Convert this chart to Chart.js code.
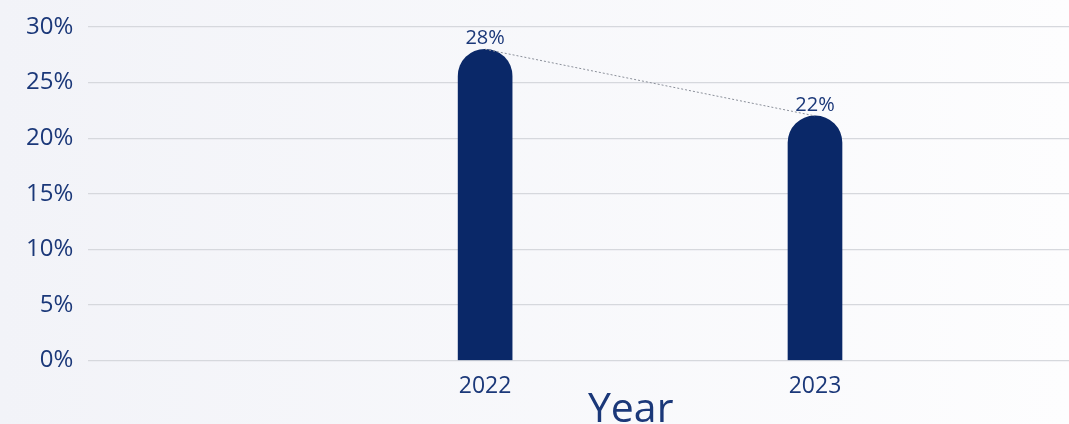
<!DOCTYPE html>
<html>
<head>
<meta charset="utf-8">
<script src="https://cdn.jsdelivr.net/npm/chart.js@4"></script>
<style>
  html, body { margin: 0; padding: 0; }
  body { width: 1069px; height: 424px; background: linear-gradient(to right, #f2f3f8, #fdfdfe); overflow: hidden; }
  #wrap { width: 1069px; height: 424px; }
</style>
</head>
<body>
<div id="wrap"><canvas id="rateChart"></canvas></div>
<script>
const years = [2022, 2023];
const rates = [28, 22];
const yTicks = [0, 5, 10, 15, 20, 25, 30];
const xTitle = 'Year';

const navy = '#0a2868';
const textColor = '#1b3879';

const points = years.map((y, i) => ({ x: y, y: rates[i] }));

// labels over bars + shifted axis title
const labelPlugin = {
    id: 'labelPlugin',
    afterDatasetsDraw(chart) {
        const ctx = chart.ctx;
        const meta = chart.getDatasetMeta(1);
        ctx.save();
        ctx.fillStyle = textColor;
        ctx.font = '20px "Open Sans"';
        ctx.textAlign = 'center';
        ctx.textBaseline = 'bottom';
        meta.data.forEach((bar, i) => {
            ctx.fillText(rates[i] + '%', bar.x, bar.y - 1);
        });
        const area = chart.chartArea;
        ctx.font = '41px "Open Sans"';
        ctx.textBaseline = 'alphabetic';
        ctx.fillText(xTitle, (area.left + area.right) / 2 + 52, 422);
        ctx.restore();
    }
};

const ctx = document.getElementById('rateChart').getContext('2d');
new Chart(ctx, {
    type: 'bar',
    data: {
        datasets: [{
            type: 'line',
            data: points,
            borderColor: '#8a8f99',
            borderWidth: 1,
            borderDash: [2, 2],
            pointRadius: 0,
            fill: false,
            order: 0
        }, {
            type: 'bar',
            data: points,
            backgroundColor: navy,
            barThickness: 54,
            borderRadius: { topLeft: 27, topRight: 27, bottomLeft: 0, bottomRight: 0 },
            borderSkipped: 'bottom',
            order: 1
        }]
    },
    options: {
        responsive: true,
        maintainAspectRatio: false,
        animation: false,
        layout: { padding: { top: 13, right: 0, bottom: 20, left: 11 } },
        plugins: {
            legend: { display: false },
            tooltip: { enabled: false }
        },
        scales: {
            x: {
                type: 'linear',
                offset: false,
                min: 2020.797,
                max: 2023.77,
                grid: { display: false, offset: false },
                border: { display: false },
                afterBuildTicks: (scale) => { scale.ticks = years.map(v => ({ value: v })); },
                ticks: {
                    color: textColor,
                    font: { family: 'Open Sans', size: 23 },
                    padding: 4,
                    callback: (v) => String(v)
                }
            },
            y: {
                min: 0,
                max: 30,
                afterBuildTicks: (scale) => { scale.ticks = yTicks.map(v => ({ value: v })); },
                grid: { color: '#d6d8dd', lineWidth: 1.2, drawTicks: false },
                border: { display: false },
                ticks: {
                    color: textColor,
                    font: { family: 'Open Sans', size: 24, lineHeight: 1.0 },
                    padding: 15,
                    callback: (v) => v + '%'
                }
            }
        }
    },
    plugins: [labelPlugin]
});
</script>
</body>
</html>
